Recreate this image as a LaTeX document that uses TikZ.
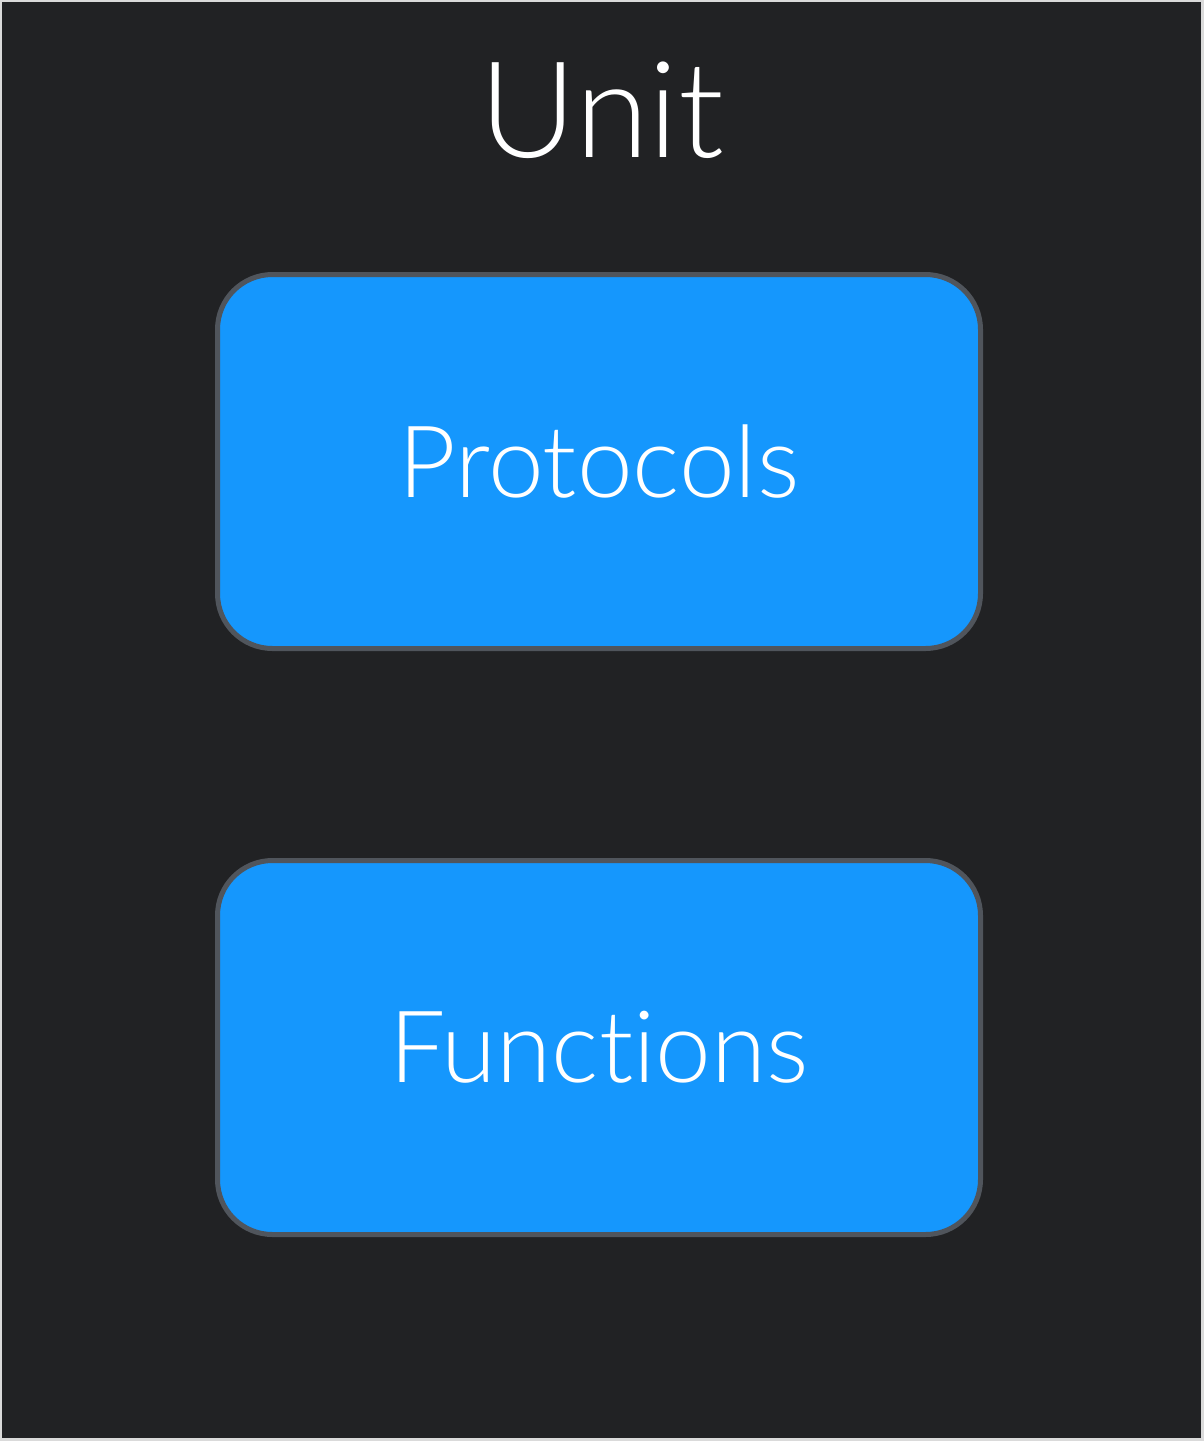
\documentclass[tikz,border=0pt]{standalone}
\usepackage{fontspec}
\setmainfont{Lato}[UprightFont={* Light}, Ligatures=NoCommon]
\usepackage{xcolor}
\usepackage{tikz}
\usetikzlibrary{positioning}
\definecolor{unitbg}{HTML}{212224}
\definecolor{unitframe}{HTML}{DADADA}
\definecolor{unitblue}{HTML}{1597FD}
\definecolor{unitedge}{HTML}{50555C}
\tikzset{
  part/.style={draw=unitedge, fill=unitblue, line width=5pt, rounded corners=55pt,
               minimum width=763pt, minimum height=374pt, text=white,
               font=\fontsize{100}{100}\selectfont},
  title/.style={text=white, font=\fontsize{134}{134}\selectfont, inner sep=0pt},
}

\begin{document}
\begin{tikzpicture}[x=1pt, y=1pt]
  \useasboundingbox (0,0) rectangle (1204,-1441);
  \fill[unitframe] (0,0) rectangle (1204,-1441);
  \fill[unitbg] (2,-2) rectangle (1201,-1438);

  \node[title, anchor=base] (unit) at (602,-157) {Unit};
  \node[part] (protocols) at (599,-461.5) {Protocols};
  \node[part, below=207pt of protocols] (functions) {Functions};
\end{tikzpicture}
\end{document}
